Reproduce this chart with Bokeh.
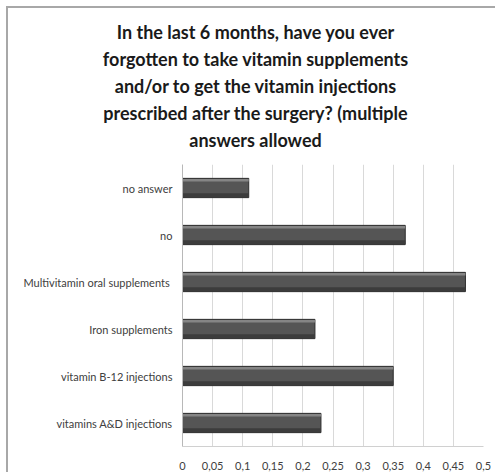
from bokeh.plotting import figure
from bokeh.models import Div, FactorRange, Range1d, FixedTicker, ColumnDataSource
from bokeh.layouts import column
from bokeh.transform import dodge
from bokeh.embed import file_html
from bokeh.resources import INLINE

categories = ["no answer", "no", "Multivitamin oral  supplements", "Iron supplements",
              "vitamin B-12 injections", "vitamins A&D injections"]
values = [0.11, 0.37, 0.47, 0.22, 0.35, 0.23]
tick_values = [0, 0.05, 0.1, 0.15, 0.2, 0.25, 0.3, 0.35, 0.4, 0.45, 0.5]
tick_labels = ["0", "0,05", "0,1", "0,15", "0,2", "0,25", "0,3", "0,35", "0,4", "0,45", "0,5"]
title_text = ("In the last 6 months, have you ever<br>forgotten to take vitamin supplements<br>"
              "and/or to get the vitamin injections<br>prescribed after the surgery? (multiple<br>answers allowed")

src = ColumnDataSource(dict(cat=categories, val=values))

title = Div(text=title_text, width=485, height=146,
            styles={"text-align": "center", "font-family": "Lato", "font-weight": "bold",
                    "font-size": "18px", "line-height": "27px", "color": "#1a1a1a",
                    "padding-top": "6px", "width": "485px"})

p = figure(width=485, height=308, output_backend="svg", toolbar_location=None,
           y_range=FactorRange(factors=categories[::-1], range_padding=0),
           x_range=Range1d(0, 0.5),
           min_border_left=174, min_border_right=10, min_border_top=0, min_border_bottom=23)

p.hbar(y="cat", right="val", height=0.41, source=src, fill_color="#555555", line_color="#2e2e2e")
p.hbar(y=dodge("cat", -0.15, range=p.y_range), right="val", height=0.08, source=src,
       fill_color="#3c3c3c", line_color=None)
p.hbar(y=dodge("cat", 0.165, range=p.y_range), right="val", height=0.05, source=src,
       fill_color="#858585", line_color=None)

p.outline_line_color = None
p.xaxis.ticker = FixedTicker(ticks=tick_values)
p.xaxis.major_label_overrides = {v: l for v, l in zip(tick_values, tick_labels)}
p.xaxis.axis_line_color = "#d0d0d0"
p.xaxis.major_tick_line_color = None
p.xaxis.minor_tick_line_color = None
p.xaxis.major_label_text_font = "Lato"
p.xaxis.major_label_text_font_size = "11px"
p.xaxis.major_label_text_color = "#404040"
p.xaxis.major_label_standoff = 9

p.yaxis.axis_line_color = "#b8b8b8"
p.yaxis.major_tick_line_color = None
p.yaxis.minor_tick_line_color = None
p.yaxis.major_label_text_font = "Lato"
p.yaxis.major_label_text_font_size = "11px"
p.yaxis.major_label_text_color = "#404040"
p.yaxis.major_label_standoff = 4

p.xgrid.ticker = FixedTicker(ticks=tick_values)
p.xgrid.grid_line_color = "#d9d9d9"
p.ygrid.grid_line_color = None

layout = column(title, p, spacing=0, margin=(6, 0, 0, 6),
                styles={"border-top": "2px solid #a8a8a8", "border-left": "2px solid #a8a8a8"})

open("out.html", "w").write(file_html(layout, INLINE))
